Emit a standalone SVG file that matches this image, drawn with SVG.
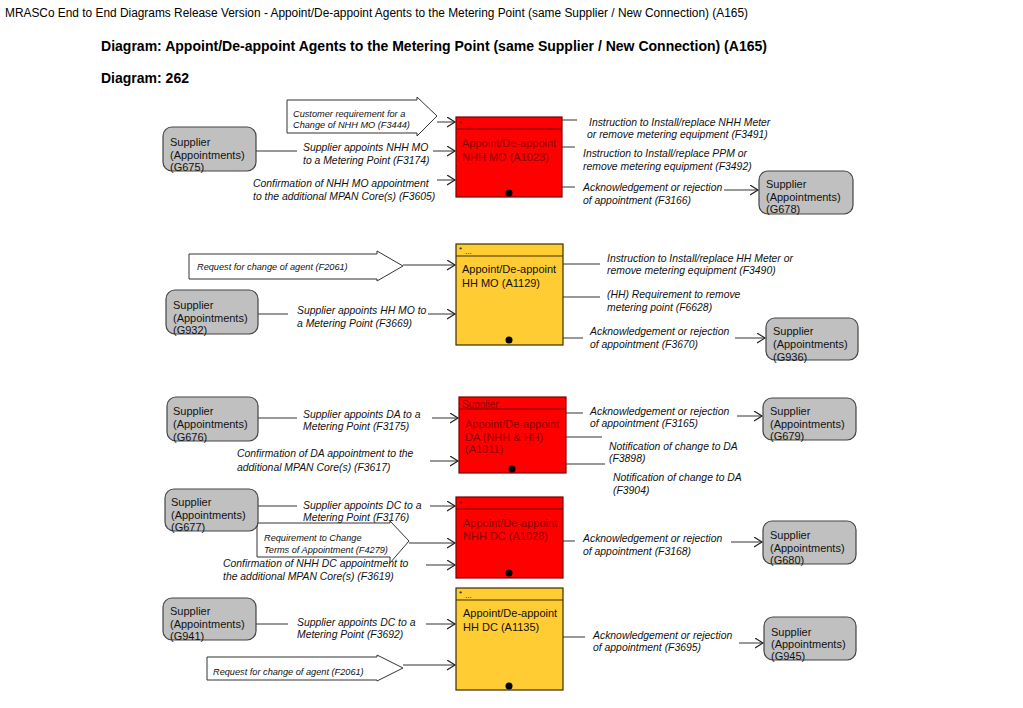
<svg xmlns="http://www.w3.org/2000/svg" width="1023" height="708" viewBox="0 0 1023 708">
<defs>
<marker id="arr" markerUnits="userSpaceOnUse" markerWidth="10" markerHeight="12" refX="8" refY="5" orient="auto">
<path d="M0,0 L8,5 L0,10" fill="none" stroke="#222" stroke-width="1.2"/>
</marker>
<style>
text{font-family:"Liberation Sans",Arial,sans-serif;}
.hdr{font-size:12px;fill:#000;}
.ttl{font-size:14px;font-weight:bold;fill:#000;}
.lbl{font-size:10.4px;font-style:italic;fill:#111;}
.big{font-size:9.2px;font-style:italic;fill:#111;}
.sup{fill:#c0c0c0;stroke:#444;stroke-width:1.2;}
.st{font-size:11px;fill:#111;}
.red{fill:#ff0000;stroke:#7a0000;stroke-width:1.2;}
.yel{fill:#ffcc33;stroke:#3a2e00;stroke-width:1.2;}
.rt{font-size:11px;fill:#8b0000;}
.yt{font-size:11px;fill:#111;}
.conn line{stroke:#333;stroke-width:1;}
.conn line.a{marker-end:url(#arr);}
.barrow{fill:#fff;stroke:#333;stroke-width:1;}
.dot{fill:#000;}
</style>
</defs>
<rect width="1023" height="708" fill="#fff"/>
<text class="hdr" x="5" y="17" textLength="743" lengthAdjust="spacingAndGlyphs">MRASCo End to End Diagrams Release Version - Appoint/De-appoint Agents to the Metering Point (same Supplier / New Connection) (A165)</text>
<text class="ttl" x="101" y="51" textLength="666" lengthAdjust="spacingAndGlyphs">Diagram: Appoint/De-appoint Agents to the Metering Point (same Supplier / New Connection) (A165)</text>
<text class="ttl" x="101" y="83" textLength="88" lengthAdjust="spacingAndGlyphs">Diagram: 262</text>

<g id="connectors" class="conn">
<!-- section 1 -->
<line class="a" x1="437" y1="122" x2="455" y2="122"/>
<line x1="256" y1="151" x2="297" y2="151"/>
<line class="a" x1="433" y1="151" x2="455" y2="151"/>
<line class="a" x1="437" y1="180" x2="455" y2="180"/>
<line x1="562" y1="120" x2="577" y2="120"/>
<line x1="562" y1="147" x2="575" y2="147"/>
<line x1="562" y1="187" x2="575" y2="187"/>
<line class="a" x1="724" y1="190" x2="758" y2="190"/>
<!-- section 2 -->
<line class="a" x1="403" y1="265" x2="455" y2="265"/>
<line x1="258" y1="314" x2="288" y2="314"/>
<line class="a" x1="428" y1="314" x2="455" y2="314"/>
<line x1="563" y1="264" x2="600" y2="264"/>
<line x1="563" y1="297" x2="600" y2="297"/>
<line x1="563" y1="338" x2="583" y2="338"/>
<line class="a" x1="735" y1="338" x2="765" y2="338"/>
<!-- section 3 -->
<line x1="258" y1="418" x2="297" y2="418"/>
<line class="a" x1="432" y1="418" x2="458" y2="418"/>
<line class="a" x1="430" y1="461" x2="458" y2="461"/>
<line x1="566" y1="413" x2="583" y2="413"/>
<line class="a" x1="737" y1="416" x2="762" y2="416"/>
<line x1="566" y1="437" x2="602" y2="437"/>
<line x1="566" y1="464" x2="605" y2="464"/>
<!-- section 4 -->
<line x1="258" y1="506" x2="297" y2="506"/>
<line class="a" x1="430" y1="506" x2="455" y2="506"/>
<line class="a" x1="409" y1="543" x2="455" y2="543"/>
<line class="a" x1="426" y1="565" x2="455" y2="565"/>
<line x1="563" y1="541" x2="575" y2="541"/>
<line class="a" x1="731" y1="542" x2="762" y2="542"/>
<!-- section 5 -->
<line x1="256" y1="624" x2="288" y2="624"/>
<line class="a" x1="426" y1="624" x2="455" y2="624"/>
<line class="a" x1="403" y1="665" x2="455" y2="665"/>
<line x1="563" y1="637" x2="585" y2="637"/>
<line class="a" x1="739" y1="643" x2="763" y2="643"/>
</g>

<g id="flow-labels">
<text class="lbl" x="303" y="151">Supplier appoints NHH MO</text>
<text class="lbl" x="303" y="163.5">to a Metering Point (F3174)</text>
<text class="lbl" x="253" y="187">Confirmation of NHH MO appointment</text>
<text class="lbl" x="253" y="200">to the additional MPAN Core(s) (F3605)</text>
<text class="lbl" x="589" y="125.5">Instruction to Install/replace NHH Meter</text>
<text class="lbl" x="587" y="137.5">or remove metering equipment (F3491)</text>
<text class="lbl" x="583" y="156.5">Instruction to Install/replace PPM or</text>
<text class="lbl" x="583" y="169.5">remove metering equipment (F3492)</text>
<text class="lbl" x="583" y="190.5">Acknowledgement or rejection</text>
<text class="lbl" x="583" y="203.5">of appointment (F3166)</text>

<text class="lbl" x="297" y="313.5">Supplier appoints HH MO to</text>
<text class="lbl" x="297" y="326.5">a Metering Point (F3669)</text>
<text class="lbl" x="607" y="261.5">Instruction to Install/replace HH Meter or</text>
<text class="lbl" x="607" y="273.5">remove metering equipment (F3490)</text>
<text class="lbl" x="607" y="297.5">(HH) Requirement to remove</text>
<text class="lbl" x="607" y="310.5">metering point (F6628)</text>
<text class="lbl" x="590" y="334.5">Acknowledgement or rejection</text>
<text class="lbl" x="590" y="347.5">of appointment (F3670)</text>

<text class="lbl" x="303" y="417.5">Supplier appoints DA to a</text>
<text class="lbl" x="303" y="429.5">Metering Point (F3175)</text>
<text class="lbl" x="237" y="456.5">Confirmation of DA appointment to the</text>
<text class="lbl" x="237" y="470.5">additional MPAN Core(s) (F3617)</text>
<text class="lbl" x="590" y="414.5">Acknowledgement or rejection</text>
<text class="lbl" x="590" y="426.5">of appointment (F3165)</text>
<text class="lbl" x="609" y="449.5">Notification of change to DA</text>
<text class="lbl" x="609" y="461.5">(F3898)</text>
<text class="lbl" x="613" y="480.5">Notification of change to DA</text>
<text class="lbl" x="613" y="493.5">(F3904)</text>

<text class="lbl" x="303" y="508.5">Supplier appoints DC to a</text>
<text class="lbl" x="303" y="520.5">Metering Point (F3176)</text>
<text class="lbl" x="223" y="566.5">Confirmation of NHH DC appointment to</text>
<text class="lbl" x="223" y="579.5">the additional MPAN Core(s) (F3619)</text>
<text class="lbl" x="583" y="541.5">Acknowledgement or rejection</text>
<text class="lbl" x="583" y="554.5">of appointment (F3168)</text>

<text class="lbl" x="297" y="625.5">Supplier appoints DC to a</text>
<text class="lbl" x="297" y="637.5">Metering Point (F3692)</text>
<text class="lbl" x="593" y="638.5">Acknowledgement or rejection</text>
<text class="lbl" x="593" y="650.5">of appointment (F3695)</text>
</g>

<g id="ext-F3444">
<polygon class="barrow" points="287,100 417,100 417,97 437,116 417,136 417,133 287,133"/>
<text class="big" x="293" y="117">Customer requirement for a</text>
<text class="big" x="293" y="127.5">Change of NHH MO (F3444)</text>
</g>
<g id="ext-F2061-a">
<polygon class="barrow" points="189,254 377,254 377,251 403,266 377,281 377,279 189,279"/>
<text class="big" x="197" y="270">Request for change of agent (F2061)</text>
</g>
<g id="ext-F4279">
<polygon class="barrow" points="257,523 390,523 390,521 409,541 390,563 390,557 257,557"/>
<text class="big" x="264" y="541">Requirement to Change</text>
<text class="big" x="264" y="552.5">Terms of Appointment (F4279)</text>
</g>
<g id="ext-F2061-b">
<polygon class="barrow" points="207,657 377,657 377,655 403,668 377,681 377,680 207,680"/>
<text class="big" x="213" y="674.5">Request for change of agent (F2061)</text>
</g>

<g id="A1023">
<rect class="red" x="456" y="117" width="106" height="80"/>
<line x1="456" y1="129" x2="562" y2="129" stroke="#7a0000" stroke-width="1"/>
<text x="459" y="126" font-size="8" fill="#8b0000">*</text>
<text x="466" y="127" font-size="8" fill="#8b0000">...</text>
<text class="rt" x="462" y="147">Appoint/De-appoint</text>
<text class="rt" x="462" y="161">NHH MO (A1023)</text>
<circle class="dot" cx="509" cy="193" r="3.5"/>
</g>
<g id="A1129">
<rect class="yel" x="456" y="244" width="107" height="101"/>
<line x1="456" y1="256" x2="563" y2="256" stroke="#3a2e00" stroke-width="1"/>
<text x="459" y="252" font-size="8" fill="#111">*</text>
<text x="465" y="254" font-size="8" fill="#111">...</text>
<text class="yt" x="462" y="273">Appoint/De-appoint</text>
<text class="yt" x="462" y="287">HH MO (A1129)</text>
<circle class="dot" cx="509" cy="340" r="3.5"/>
</g>
<g id="A1011">
<rect class="red" x="459" y="397" width="107" height="76"/>
<line x1="459" y1="409" x2="566" y2="409" stroke="#7a0000" stroke-width="1"/>
<text x="462" y="407.5" font-size="10" fill="#8b0000">Supplier</text>
<text class="rt" x="465" y="428">Appoint/De-appoint</text>
<text class="rt" x="465" y="440.5">DA (NHH &amp; HH)</text>
<text class="rt" x="465" y="453">(A1011)</text>
<circle class="dot" cx="512" cy="469" r="3.5"/>
</g>
<g id="A1028">
<rect class="red" x="456" y="497" width="107" height="81"/>
<line x1="456" y1="509" x2="563" y2="509" stroke="#7a0000" stroke-width="1"/>
<text x="459" y="506" font-size="8" fill="#8b0000">*</text>
<text x="466" y="507" font-size="8" fill="#8b0000">...</text>
<text class="rt" x="463" y="527">Appoint/De-appoint</text>
<text class="rt" x="463" y="540">NHH DC (A1028)</text>
<circle class="dot" cx="509" cy="573" r="3.5"/>
</g>
<g id="A1135">
<rect class="yel" x="456" y="588" width="107" height="102"/>
<line x1="456" y1="600" x2="563" y2="600" stroke="#3a2e00" stroke-width="1"/>
<text x="459" y="596" font-size="8" fill="#111">*</text>
<text x="465" y="598" font-size="8" fill="#111">...</text>
<text class="yt" x="463" y="617">Appoint/De-appoint</text>
<text class="yt" x="463" y="631">HH DC (A1135)</text>
<circle class="dot" cx="509" cy="686" r="3.5"/>
</g>

<g id="G675">
<rect class="sup" x="163" y="127" width="93" height="44" rx="9"/>
<text class="st" x="170" y="146">Supplier</text>
<text class="st" x="170" y="158.5">(Appointments)</text>
<text class="st" x="170" y="171">(G675)</text>
</g>
<g id="G678">
<rect class="sup" x="759" y="171" width="94" height="43" rx="9"/>
<text class="st" x="766" y="188">Supplier</text>
<text class="st" x="766" y="200.5">(Appointments)</text>
<text class="st" x="766" y="213">(G678)</text>
</g>
<g id="G932">
<rect class="sup" x="166" y="290" width="92" height="44" rx="9"/>
<text class="st" x="173" y="309">Supplier</text>
<text class="st" x="173" y="321.5">(Appointments)</text>
<text class="st" x="173" y="334">(G932)</text>
</g>
<g id="G936">
<rect class="sup" x="766" y="318" width="92" height="42" rx="9"/>
<text class="st" x="773" y="335">Supplier</text>
<text class="st" x="773" y="348">(Appointments)</text>
<text class="st" x="773" y="360.5">(G936)</text>
</g>
<g id="G676">
<rect class="sup" x="167" y="397" width="91" height="44" rx="9"/>
<text class="st" x="173" y="415">Supplier</text>
<text class="st" x="173" y="427.5">(Appointments)</text>
<text class="st" x="173" y="440.5">(G676)</text>
</g>
<g id="G679">
<rect class="sup" x="763" y="398" width="93" height="42" rx="9"/>
<text class="st" x="770" y="415">Supplier</text>
<text class="st" x="770" y="427.5">(Appointments)</text>
<text class="st" x="770" y="440">(G679)</text>
</g>
<g id="G677">
<rect class="sup" x="165" y="489" width="93" height="42" rx="9"/>
<text class="st" x="171" y="506">Supplier</text>
<text class="st" x="171" y="518.5">(Appointments)</text>
<text class="st" x="171" y="530.5">(G677)</text>
</g>
<g id="G680">
<rect class="sup" x="763" y="521" width="93" height="43" rx="9"/>
<text class="st" x="770" y="539">Supplier</text>
<text class="st" x="770" y="551.5">(Appointments)</text>
<text class="st" x="770" y="564">(G680)</text>
</g>
<g id="G941">
<rect class="sup" x="163" y="598" width="93" height="42" rx="9"/>
<text class="st" x="170" y="615">Supplier</text>
<text class="st" x="170" y="627.5">(Appointments)</text>
<text class="st" x="170" y="640">(G941)</text>
</g>
<g id="G945">
<rect class="sup" x="764" y="617" width="92" height="43" rx="9"/>
<text class="st" x="771" y="636">Supplier</text>
<text class="st" x="771" y="647.5">(Appointments)</text>
<text class="st" x="771" y="659.5">(G945)</text>
</g>
</svg>
